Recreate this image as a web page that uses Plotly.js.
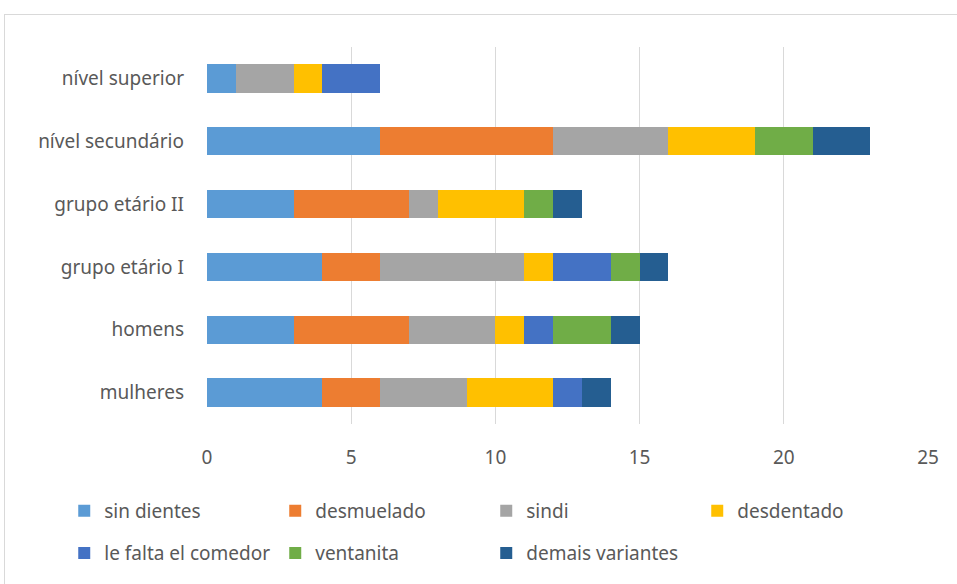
<!DOCTYPE html>
<html>
<head>
<meta charset="utf-8">
<script src="https://cdn.plot.ly/plotly-3.0.1.min.js"></script>
<style>
html,body{margin:0;padding:0;overflow:hidden;background:#fff;}
#chart{width:957px;height:584px;position:absolute;left:0;top:0;}
#frame{position:absolute;left:4px;top:14px;width:1000px;height:700px;border:1.5px solid #D9D9D9;pointer-events:none;}
</style>
</head>
<body>
<div id="chart"></div>
<div id="frame"></div>
<script>
const categories = ["mulheres", "homens", "grupo etário I", "grupo etário II", "nível secundário", "nível superior"];
const seriesNames = ["sin dientes", "desmuelado", "sindi", "desdentado", "le falta el comedor", "ventanita", "demais variantes"];
const sinDientes = [4, 3, 4, 3, 6, 1];
const desmuelado = [2, 4, 2, 4, 6, 0];
const sindi = [3, 3, 5, 1, 4, 2];
const desdentado = [3, 1, 1, 3, 3, 1];
const leFalta = [1, 1, 2, 0, 0, 2];
const ventanita = [0, 2, 1, 1, 2, 0];
const demais = [1, 1, 1, 1, 2, 0];
const xTicks = [0, 5, 10, 15, 20, 25];

const values = [sinDientes, desmuelado, sindi, desdentado, leFalta, ventanita, demais];
const colors = ["#5B9BD5", "#ED7D31", "#A5A5A5", "#FFC000", "#4472C4", "#70AD47", "#255E91"];

const traces = values.map((v, i) => ({
  type: "bar",
  orientation: "h",
  name: seriesNames[i],
  y: categories,
  x: v,
  marker: {color: colors[i], line: {width: 0}},
  legend: i < 4 ? "legend" : "legend2",
  hoverinfo: "x+name"
}));

const font = {family: "Noto Sans, sans-serif", size: 19, color: "#595959"};
const legendFont = {family: "Noto Sans, sans-serif", size: 19, color: "#595959"};
const legendBase = {
  orientation: "h",
  xanchor: "left",
  yanchor: "top",
  xref: "paper",
  yref: "paper",
  font: legendFont,
  entrywidth: 166,
  entrywidthmode: "pixels",
  itemwidth: 30,
  bgcolor: "rgba(0,0,0,0)",
  traceorder: "normal"
};

const layout = {
  width: 957,
  height: 584,
  margin: {l: 207, r: 29, t: 47, b: 154},
  paper_bgcolor: "#fff",
  plot_bgcolor: "#fff",
  font: font,
  barmode: "stack",
  bargap: 0.55,
  showlegend: true,
  xaxis: {
    range: [0, 25],
    tickvals: xTicks,
    ticktext: xTicks.map(String),
    showgrid: true,
    gridcolor: "#D9D9D9",
    gridwidth: 1,
    zeroline: false,
    showline: false,
    ticks: "",
    ticklabelstandoff: 20,
    tickfont: font,
    fixedrange: true
  },
  yaxis: {
    type: "category",
    categoryorder: "array",
    categoryarray: categories,
    showgrid: false,
    zeroline: false,
    showline: false,
    ticks: "",
    ticklabelstandoff: 22,
    tickfont: font,
    fixedrange: true
  },
  legend: Object.assign({}, legendBase, {x: -0.198, y: -0.18}),
  legend2: Object.assign({}, legendBase, {x: -0.198, y: -0.292})
};

Plotly.newPlot("chart", traces, layout, {displayModeBar: false, staticPlot: true});
</script>
</body>
</html>
